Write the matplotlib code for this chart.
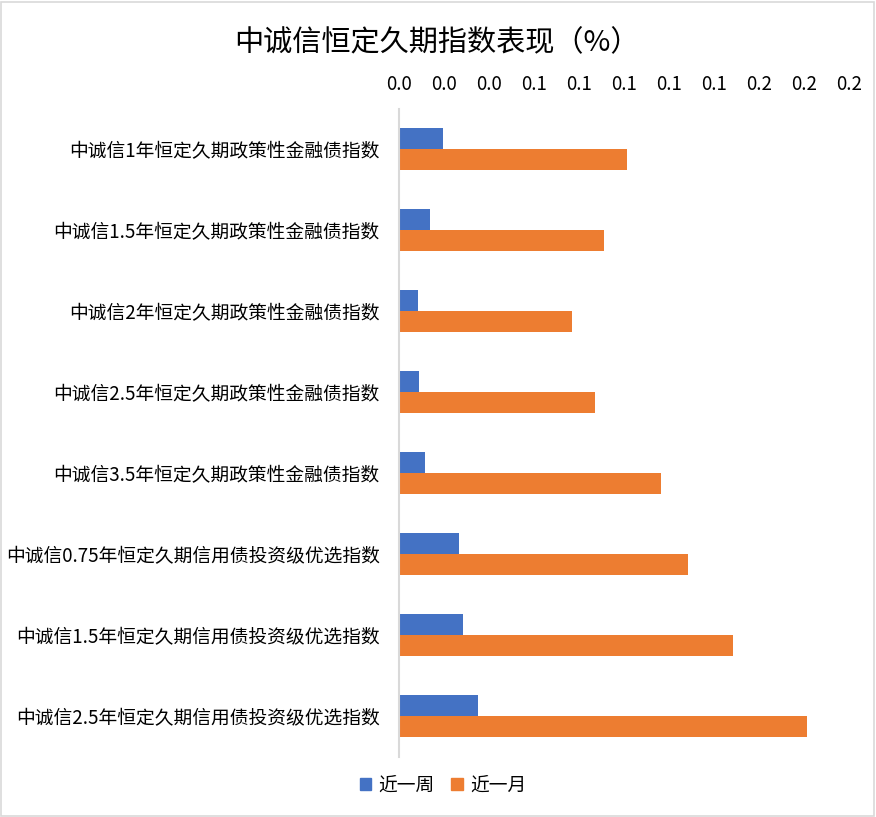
import numpy as np
import matplotlib
matplotlib.use('Agg')
import matplotlib.pyplot as plt
import matplotlib.patches as patches
from matplotlib.ticker import FuncFormatter

plt.rcParams['font.family'] = ['Noto Sans CJK SC', 'DejaVu Sans']

### Data

categories = [
    '中诚信1年恒定久期政策性金融债指数',
    '中诚信1.5年恒定久期政策性金融债指数',
    '中诚信2年恒定久期政策性金融债指数',
    '中诚信2.5年恒定久期政策性金融债指数',
    '中诚信3.5年恒定久期政策性金融债指数',
    '中诚信0.75年恒定久期信用债投资级优选指数',
    '中诚信1.5年恒定久期信用债投资级优选指数',
    '中诚信2.5年恒定久期信用债投资级优选指数',
]
week = [0.0196, 0.0138, 0.0084, 0.0089, 0.0116, 0.0267, 0.0284, 0.0351]
month = [0.1013, 0.0911, 0.0769, 0.0871, 0.1164, 0.1284, 0.1484, 0.1813]
series_names = ['近一周', '近一月']
title = '中诚信恒定久期指数表现（%）'

### Style

blue = '#4472C4'
orange = '#ED7D31'
grey = '#D9D9D9'
text_color = '#000000'
bar_h = 0.26
fs = 13.5

### Plot

fig = plt.figure(figsize=(8.76, 8.17), dpi=100)
ax = fig.add_axes([399 / 876, 1 - 756.5 / 817, 450 / 876, 648 / 817])

y = np.arange(len(categories))
ax.barh(y - bar_h / 2, week, height=bar_h, color=blue, label=series_names[0])
ax.barh(y + bar_h / 2, month, height=bar_h, color=orange, label=series_names[1])

ax.set_ylim(len(categories) - 0.5, -0.5)
ax.set_xlim(0, 0.2)
ax.set_xticks(np.arange(0, 0.201, 0.02))
ax.xaxis.set_major_formatter(FuncFormatter(lambda v, p: f'{v:.1f}'))
ax.xaxis.tick_top()
ax.tick_params(axis='x', length=0, pad=10, labelsize=fs, labelcolor=text_color)
ax.set_yticks(y)
ax.set_yticklabels(categories)
ax.tick_params(axis='y', length=0, pad=14, labelsize=fs, labelcolor=text_color)

for side in ['top', 'right', 'bottom']:
    ax.spines[side].set_visible(False)
ax.spines['left'].set_color(grey)
ax.spines['left'].set_linewidth(1.5)

fig.text(437 / 876, 1 - 43 / 817, title, ha='center', va='center', fontsize=21, color=text_color)

handles = [patches.Patch(color=blue), patches.Patch(color=orange)]
fig.legend(handles, series_names, loc='center', bbox_to_anchor=(443 / 876, 1 - 785 / 817),
           ncol=2, frameon=False, fontsize=fs, handlelength=0.6, handleheight=0.6,
           handletextpad=0.4, columnspacing=0.9)

# chart border
fig.patches.append(patches.Rectangle((0.001, 0.001), 0.997, 0.997, transform=fig.transFigure,
                                     fill=False, edgecolor=grey, linewidth=1.2))

fig.savefig('out.png', dpi=100)
